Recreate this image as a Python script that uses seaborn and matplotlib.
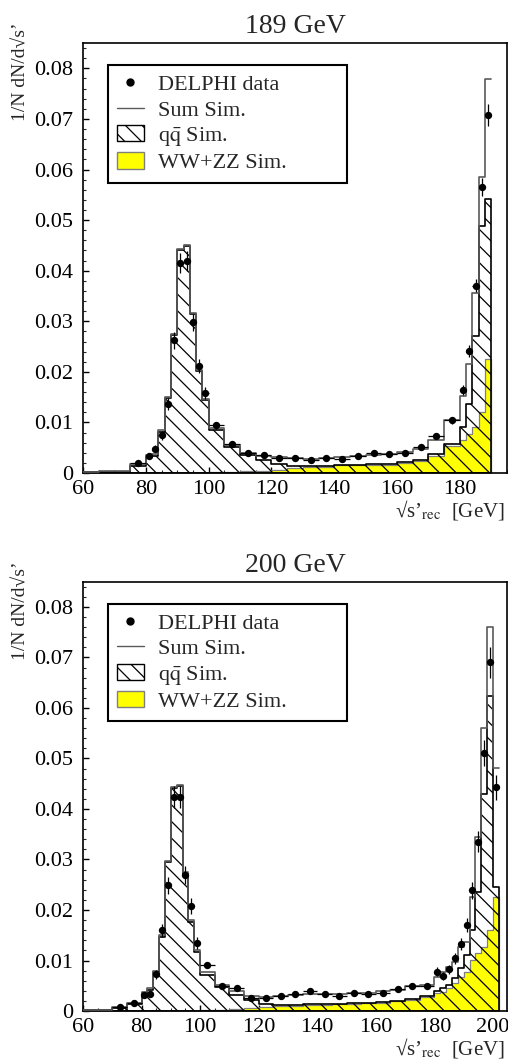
"""
    Reconstructed sqrt(s') spectra at 189 and 200 GeV: data vs simulation.
"""

import numpy as np
import pandas as pd
import matplotlib
matplotlib.use("Agg")
import matplotlib.pyplot as plt
import matplotlib.patches as mpatches
import matplotlib.lines as mlines
import matplotlib.ticker as mtick
import seaborn as sns

# ---------------- 189 GeV ----------------
edges_189 = [60, 65, 70, 75, 80, 82, 84, 86, 88, 90, 92, 94, 96, 98, 100,
             105, 110, 115, 120, 125, 130, 135, 140, 145, 150, 155, 160, 165, 170, 175, 180,
             182, 184, 186, 188, 190]
sum_189 = [0.0003, 0.0004, 0.0004, 0.0018,
           0.0035, 0.0037, 0.0085, 0.0150, 0.0275, 0.0442, 0.0450, 0.0317, 0.0204, 0.0146,
           0.0090, 0.0056, 0.0040, 0.0034, 0.0031, 0.0030, 0.0028, 0.0030, 0.0031, 0.0034,
           0.0036, 0.0037, 0.0041, 0.0048, 0.0065, 0.0105,
           0.0152, 0.0216, 0.0355, 0.0586, 0.0779]
qq_189 = [0.0002, 0.0003, 0.0003, 0.0013,
          0.0032, 0.0034, 0.0082, 0.0148, 0.0273, 0.0440, 0.0448, 0.0315, 0.0202, 0.0144,
          0.0086, 0.0051, 0.0035, 0.0025, 0.0017, 0.0014, 0.0013, 0.0014, 0.0016, 0.0016,
          0.0017, 0.0018, 0.0022, 0.0026, 0.0037, 0.0058,
          0.0091, 0.0137, 0.0270, 0.0489, 0.0542]
ww_189 = [0, 0, 0, 0,
          0, 0, 0, 0, 0, 0, 0, 0, 0, 0.0001,
          0.0002, 0.0003, 0.0004, 0.0005, 0.0006, 0.0009, 0.0011, 0.0012, 0.0015, 0.0015,
          0.0016, 0.0016, 0.0020, 0.0023, 0.0034, 0.0053,
          0.0065, 0.0077, 0.0091, 0.0120, 0.0226]

data_edges_189 = [75, 80, 82, 84, 86, 88, 90, 92, 94, 96, 98, 100,
                  105, 110, 115, 120, 125, 130, 135, 140, 145, 150, 155, 160, 165, 170, 175, 180,
                  182, 184, 186, 188, 190]
data_189 = [0.0019,
            0.0034, 0.0048, 0.0075, 0.0136, 0.0262, 0.0415, 0.0419, 0.0298, 0.0211, 0.0159,
            0.0094, 0.0058, 0.0040, 0.0036, 0.0030, 0.0030, 0.0025, 0.0030, 0.0027, 0.0033,
            0.0040, 0.0038, 0.0040, 0.0051, 0.0073, 0.0104,
            0.0165, 0.0242, 0.0370, 0.0566, 0.0708]
err_189 = [0.0004,
           0.0006, 0.0007, 0.0009, 0.0012, 0.0016, 0.0020, 0.0020, 0.0017, 0.0014, 0.0012,
           0.0006, 0.0005, 0.0004, 0.0004, 0.0004, 0.0004, 0.0003, 0.0004, 0.0003, 0.0004,
           0.0004, 0.0004, 0.0004, 0.0005, 0.0006, 0.0007,
           0.0010, 0.0012, 0.0013, 0.0018, 0.0021]

# ---------------- 200 GeV ----------------
edges_200 = [60, 65, 70, 75, 80, 82, 84, 86, 88, 90, 92, 94, 96, 98, 100,
             105, 110, 115, 120, 125, 130, 135, 140, 145, 150, 155, 160, 165, 170, 175, 180,
             182, 184, 186, 188, 190, 192, 194, 196, 198, 200, 202]
sum_200 = [0.0002, 0.0003, 0.0007, 0.0016,
           0.0037, 0.0045, 0.0080, 0.0150, 0.0297, 0.0444, 0.0447, 0.0275, 0.0180, 0.0120,
           0.0078, 0.0052, 0.0040, 0.0030, 0.0028, 0.0030, 0.0031, 0.0033, 0.0033, 0.0034,
           0.0035, 0.0036, 0.0039, 0.0042, 0.0049, 0.0052,
           0.0068, 0.0078, 0.0088, 0.0097, 0.0127, 0.0137, 0.0226, 0.0344, 0.0561, 0.0760, 0.0482]
qq_200 = [0.0002, 0.0002, 0.0005, 0.0014,
          0.0035, 0.0042, 0.0078, 0.0147, 0.0295, 0.0442, 0.0445, 0.0272, 0.0177, 0.0117,
          0.0071, 0.0048, 0.0032, 0.0022, 0.0014, 0.0012, 0.0012, 0.0013, 0.0013, 0.0014,
          0.0015, 0.0016, 0.0017, 0.0020, 0.0024, 0.0030,
          0.0040, 0.0045, 0.0052, 0.0065, 0.0085, 0.0110, 0.0160, 0.0236, 0.0429, 0.0623, 0.0246]
ww_200 = [0, 0, 0, 0,
          0, 0, 0, 0, 0, 0, 0, 0, 0, 0.0001,
          0.0002, 0.0003, 0.0004, 0.0005, 0.0008, 0.0010, 0.0010, 0.0011, 0.0012, 0.0013,
          0.0014, 0.0015, 0.0016, 0.0019, 0.0022, 0.0028,
          0.0035, 0.0038, 0.0045, 0.0055, 0.0068, 0.0078, 0.0101, 0.0114, 0.0127, 0.0160, 0.0226]

data_edges_200 = [70, 75, 80, 82, 84, 86, 88, 90, 92, 94, 96, 98, 100,
                  105, 110, 115, 120, 125, 130, 135, 140, 145, 150, 155, 160, 165, 170, 175, 180,
                  182, 184, 186, 188, 190, 192, 194, 196, 198, 200, 202]
data_200 = [0.0007, 0.0015,
            0.0032, 0.0033, 0.0073, 0.0160, 0.0249, 0.0423, 0.0423, 0.0269, 0.0208, 0.0135,
            0.0091, 0.0050, 0.0046, 0.0025, 0.0026, 0.0030, 0.0034, 0.0040, 0.0034, 0.0030,
            0.0035, 0.0034, 0.0036, 0.0044, 0.0050, 0.0050,
            0.0078, 0.0069, 0.0083, 0.0104, 0.0133, 0.0170, 0.0239, 0.0335, 0.0511, 0.0690, 0.0443]
err_200 = [0.0003, 0.0004,
           0.0006, 0.0006, 0.0009, 0.0013, 0.0017, 0.0022, 0.0022, 0.0018, 0.0016, 0.0012,
           0.0006, 0.0004, 0.0004, 0.0003, 0.0003, 0.0003, 0.0004, 0.0004, 0.0004, 0.0003,
           0.0004, 0.0004, 0.0004, 0.0004, 0.0005, 0.0005,
           0.0009, 0.0008, 0.0009, 0.0010, 0.0012, 0.0014, 0.0017, 0.0021, 0.0026, 0.0031, 0.0025]

YELLOW = "#ffff00"
SUM_COLOR = "#5a5a5a"
HATCH = "\\\\"

sns.set_theme(style="ticks", rc={"xtick.direction": "in", "ytick.direction": "in"})
plt.rcParams['font.family'] = ['Liberation Serif', 'DejaVu Serif']
plt.rcParams['mathtext.fontset'] = 'stix'
plt.rcParams['hatch.linewidth'] = 0.9
plt.rcParams['hatch.color'] = 'black'


def draw_panel(ax, edges, ww, qq, tot, data_edges, data, err, title, xmax):
    edges_arr = np.array(edges, dtype=float)
    centers = 0.5 * (edges_arr[:-1] + edges_arr[1:])
    hist = pd.DataFrame({'E': centers, 'ww': ww, 'qq': qq, 'sum': tot})

    # WW+ZZ (yellow), qq (hatched), sum (line)
    sns.histplot(data=hist, x='E', weights='ww', bins=edges, element='step', fill=True,
                 color=YELLOW, facecolor=YELLOW, edgecolor='#7f7f7f', linewidth=0.9,
                 alpha=1, ax=ax, zorder=1)
    sns.histplot(data=hist, x='E', weights='qq', bins=edges, element='step', fill=True,
                 color='black', facecolor='none', edgecolor='black', hatch=HATCH,
                 linewidth=1.2, alpha=1, ax=ax, zorder=2)
    sns.histplot(data=hist, x='E', weights='sum', bins=edges, element='step', fill=False,
                 color=SUM_COLOR, linewidth=1.2, alpha=1, ax=ax, zorder=3)

    d_edges = np.array(data_edges, dtype=float)
    d_cent = 0.5 * (d_edges[:-1] + d_edges[1:])
    d_half = 0.5 * (d_edges[1:] - d_edges[:-1])
    ax.errorbar(d_cent, data, yerr=err, xerr=d_half, fmt='none', ecolor='black',
                elinewidth=0.9, capsize=0, zorder=4)
    sns.scatterplot(x=d_cent, y=data, color='black', s=28, linewidth=0, ax=ax, zorder=5)

    ax.set_xlim(60, xmax)
    ax.set_ylim(0, 0.085)

    ax.xaxis.set_major_locator(mtick.MultipleLocator(20))
    ax.xaxis.set_minor_locator(mtick.MultipleLocator(5))
    ax.yaxis.set_major_locator(mtick.MultipleLocator(0.01))
    ax.yaxis.set_minor_locator(mtick.MultipleLocator(0.002))
    ax.yaxis.set_major_formatter(mtick.FuncFormatter(
        lambda v, p: '0' if abs(v) < 1e-9 else f'{v:.2f}'))
    ax.tick_params(axis='both', which='major', direction='in', length=4, width=1,
                   labelsize=16, top=False, right=False, colors='black')
    ax.tick_params(axis='both', which='minor', direction='in', length=2, width=0.8,
                   top=False, right=False)
    ax.tick_params(axis='y', pad=7)
    ax.tick_params(axis='x', pad=5)
    for sp in ax.spines.values():
        sp.set_color('black')
        sp.set_linewidth(1.2)

    ax.set_title(title, fontsize=20, pad=7)
    ax.set_ylabel("1/N dN/d√s’", fontsize=14, loc='top')
    ax.yaxis.set_label_coords(-0.125, 1.047)
    ax.set_xlabel("√s’$_{\\rm rec}$  [GeV]", fontsize=15, loc='right')
    ax.xaxis.set_label_coords(0.995, -0.058)

    legend_handles = [
        mlines.Line2D([], [], marker='o', color='black', linestyle='none', markersize=5),
        mlines.Line2D([], [], color=SUM_COLOR, linewidth=1.0),
        mpatches.Patch(facecolor='white', edgecolor='black', hatch=HATCH, linewidth=1.0),
        mpatches.Patch(facecolor=YELLOW, edgecolor='#7f7f7f', linewidth=1.0),
    ]
    legend_labels = ["DELPHI data", "Sum Sim.", "q$\\bar{\\rm q}$ Sim.", "WW+ZZ Sim."]
    leg = ax.legend(legend_handles, legend_labels, loc='upper left',
                    bbox_to_anchor=(0.058, 0.685, 0.564, 0.264), mode='expand',
                    frameon=True, fancybox=False, framealpha=1, edgecolor='black',
                    fontsize=16, handlelength=1.2, handleheight=0.75, handletextpad=0.65,
                    labelspacing=0.2, borderpad=0.42, borderaxespad=0)
    leg.get_frame().set_linewidth(1.5)


fig = plt.figure(figsize=(5.08, 10.63), dpi=100)
ax_top = fig.add_axes([0.1634, 0.555, 0.8346, 0.4045])
ax_bot = fig.add_axes([0.1634, 0.0489, 0.8346, 0.4039])

draw_panel(ax_top, edges_189, ww_189, qq_189, sum_189, data_edges_189, data_189, err_189,
           "189 GeV", 195)
draw_panel(ax_bot, edges_200, ww_200, qq_200, sum_200, data_edges_200, data_200, err_200,
           "200 GeV", 204.8)

fig.savefig("out.png", dpi=100)
